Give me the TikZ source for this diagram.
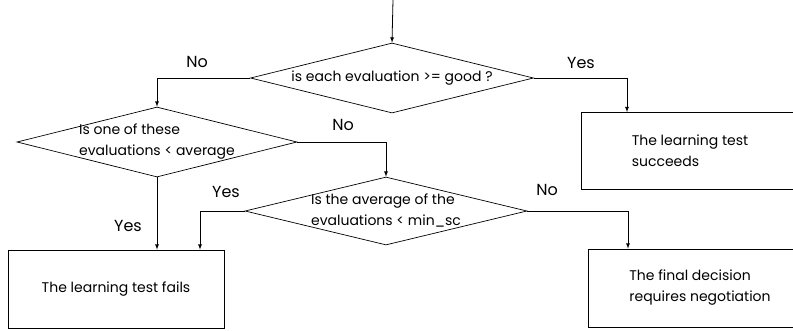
\documentclass[tikz,border=0pt]{standalone}
\usepackage{fontspec}
\setmainfont{Poppins}
\usetikzlibrary{shapes.geometric}
\tikzstyle{box}=[rectangle, draw=black, line width=0.8pt, inner sep=0pt, align=left, font=\fontsize{14}{21}\selectfont, anchor=center]
\tikzstyle{decision}=[diamond, draw=black, line width=0.7pt, inner sep=-8pt, aspect=4, align=left, font=\fontsize{14}{21}\selectfont]
\tikzstyle{annot}=[align=center, font=\fontsize{16}{18}\selectfont]
\tikzstyle{arrow}=[line width=0.8pt, ->, >=latex]

\begin{document}
\begin{tikzpicture}[x=1pt, y=-1pt]
	\useasboundingbox (0,0) rectangle (793,330);
	\coordinate (start) at (393,0);

	% decisions
	\node[decision, minimum width=283pt, minimum height=70pt](each) at (392,78) {is each evaluation >= good ?};
	\node[decision, minimum width=280pt, minimum height=70pt](below) at (157,142) {Is one of these\\evaluations < average};
	\node[decision, minimum width=282pt, minimum height=68pt](mean) at (386,211) {Is the average of the\\evaluations < min\_sc};

	% outcomes
	\node[box, minimum width=218pt, minimum height=77pt](succeeds) at (690,151) {The learning test\\succeeds};
	\node[box, minimum width=216pt, minimum height=78pt](fails) at (116,289) {The learning test fails};
	\node[box, minimum width=224pt, minimum height=78pt](negotiation) at (700,288) {The final decision\\requires negotiation};

	\draw[arrow] (start) -- (each.north);
	\draw[arrow] (each.west) -| (below.north);
	\draw[arrow] (each.east) -| ([xshift=-63pt]succeeds.north);
	\draw[arrow] (below.east) -| (mean.north);
	\draw[arrow] (below.south) -- (below.south |- fails.north);
	\draw[arrow] (mean.west) -| ([xshift=84pt]fails.north);
	\draw[arrow] (mean.east) -| ([xshift=-72pt]negotiation.north);

	\node[annot](no1) at (197,62) {No};
	\node[annot](yes1) at (581,63) {Yes};
	\node[annot](no2) at (343,125) {No};
	\node[annot](yes2) at (128,226) {Yes};
	\node[annot](yes3) at (226,192) {Yes};
	\node[annot](no3) at (547,190) {No};
\end{tikzpicture}
\end{document}
